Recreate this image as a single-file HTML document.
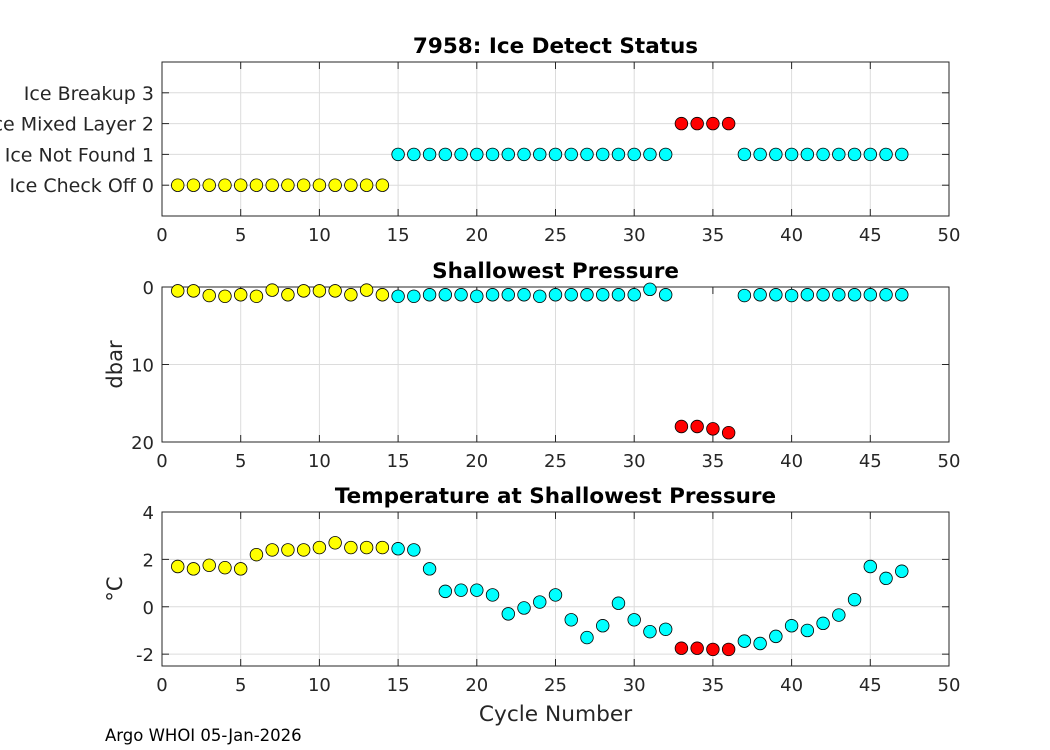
<!DOCTYPE html>
<html><head><meta charset="utf-8"><style>
html,body{margin:0;padding:0;background:#fff;overflow:hidden;}
svg{display:block;font-family:"DejaVu Sans","Liberation Sans",sans-serif;}
</style></head><body>
<svg id="c" width="1050" height="750"></svg>
<script>
const cycles=[1,2,3,4,5,6,7,8,9,10,11,12,13,14,15,16,17,18,19,20,21,22,23,24,25,26,27,28,29,30,31,32,33,34,35,36,37,38,39,40,41,42,43,44,45,46,47];
const status=[0,0,0,0,0,0,0,0,0,0,0,0,0,0,1,1,1,1,1,1,1,1,1,1,1,1,1,1,1,1,1,1,2,2,2,2,1,1,1,1,1,1,1,1,1,1,1];
const pressure=[0.5,0.5,1.1,1.2,1.0,1.2,0.4,1.0,0.5,0.5,0.5,1.0,0.4,1.0,1.2,1.2,1.0,1.0,1.0,1.2,1.0,1.0,1.0,1.2,1.0,1.0,1.0,1.0,1.0,1.0,0.3,1.0,18.0,18.0,18.3,18.8,1.1,1.0,1.0,1.1,1.0,1.0,1.0,1.0,1.0,1.0,1.0];
const temperature=[1.7,1.6,1.75,1.65,1.6,2.2,2.4,2.4,2.4,2.5,2.7,2.5,2.5,2.5,2.45,2.4,1.6,0.65,0.7,0.7,0.5,-0.3,-0.05,0.2,0.5,-0.55,-1.3,-0.8,0.15,-0.55,-1.05,-0.95,-1.75,-1.75,-1.8,-1.8,-1.45,-1.55,-1.25,-0.8,-1.0,-0.7,-0.35,0.3,1.7,1.2,1.5];
const xTicks=[0,5,10,15,20,25,30,35,40,45,50];
const statusTicks=[0,1,2,3];
const statusLabels=["Ice Check Off 0","Ice Not Found 1","Ice Mixed Layer 2","Ice Breakup 3"];
const pressureTicks=[0,10,20];
const tempTicks=[-2,0,2,4];
const colors=["#ffff00","#00ffff","#ff0000","#ff0000"];

const svg=document.getElementById('c');
const NS='http://www.w3.org/2000/svg';
function el(t,a,p){const e=document.createElementNS(NS,t);for(const k in a)e.setAttribute(k,a[k]);(p||svg).appendChild(e);return e;}
const X0=162,X1=949;
const sx=v=>X0+(v-0)/(50-0)*(X1-X0);

function panel(name,top,bot,ymin,ymax,rev,yt,ylab,title,vals,ytitle){
  const g=el('g',{});
  
  
  const sy=v=>rev? top+(v-ymin)/(ymax-ymin)*(bot-top) : bot-(v-ymin)/(ymax-ymin)*(bot-top);
  el('rect',{x:X0,y:top,width:X1-X0,height:bot-top,fill:'#fff'},g);
  xTicks.forEach(t=>{el('line',{x1:sx(t),x2:sx(t),y1:top,y2:bot,stroke:'#dcdcdc','stroke-width':1},g);});
  yt.forEach(t=>{el('line',{x1:X0,x2:X1,y1:sy(t),y2:sy(t),stroke:'#dcdcdc','stroke-width':1},g);});
  el('rect',{x:X0,y:top,width:X1-X0,height:bot-top,fill:'none',stroke:'#262626','stroke-width':1},g);
  xTicks.forEach(t=>{
    el('line',{x1:sx(t),x2:sx(t),y1:bot,y2:bot-7,stroke:'#262626'},g);
    el('line',{x1:sx(t),x2:sx(t),y1:top,y2:top+7,stroke:'#262626'},g);
    const tx=el('text',{x:sx(t),y:bot+25,'text-anchor':'middle','font-size':18,fill:'#262626'},g);tx.textContent=t;
    
    
  });
  yt.forEach((t,i)=>{
    el('line',{x1:X0,x2:X0+7,y1:sy(t),y2:sy(t),stroke:'#262626'},g);
    el('line',{x1:X1,x2:X1-7,y1:sy(t),y2:sy(t),stroke:'#262626'},g);
    const tx=el('text',{x:X0-8,y:sy(t)+7,'text-anchor':'end','font-size':ylab?19:18,fill:'#262626'},g);tx.textContent=ylab?ylab[i]:t;
    
    
  });
  const ti=el('text',{x:(X0+X1)/2,y:top-9,'text-anchor':'middle','font-size':21.5,'font-weight':'bold',fill:'#000'},g);ti.textContent=title;
  
  
  if(ytitle){const yl=el('text',{x:0,y:0,transform:`translate(${122},${(top+bot)/2}) rotate(-90)`,'text-anchor':'middle','font-size':21,fill:'#262626'},g);yl.textContent=ytitle;
    
    }
  cycles.forEach((c,i)=>{
    const m=el('circle',{cx:sx(c),cy:sy(vals[i]),r:6.3,fill:colors[status[i]],stroke:'#000','stroke-width':0.8},g);
    
    
  });
}
panel('ice-status-panel',62,216,-1,4,false,statusTicks,statusLabels,'7958: Ice Detect Status',status,null);
panel('pressure-panel',287,442,0,20,true,pressureTicks,null,'Shallowest Pressure',pressure,'dbar');
panel('temperature-panel',512,666,-2.5,4,false,tempTicks,null,'Temperature at Shallowest Pressure',temperature,'°C');
const xl=el('text',{x:(X0+X1)/2,y:721,'text-anchor':'middle','font-size':21.7,fill:'#262626'});xl.textContent='Cycle Number';


const ft=el('text',{x:105,y:741,'font-size':16.5,fill:'#000'});ft.textContent='Argo WHOI 05-Jan-2026';


</script>
</body></html>
